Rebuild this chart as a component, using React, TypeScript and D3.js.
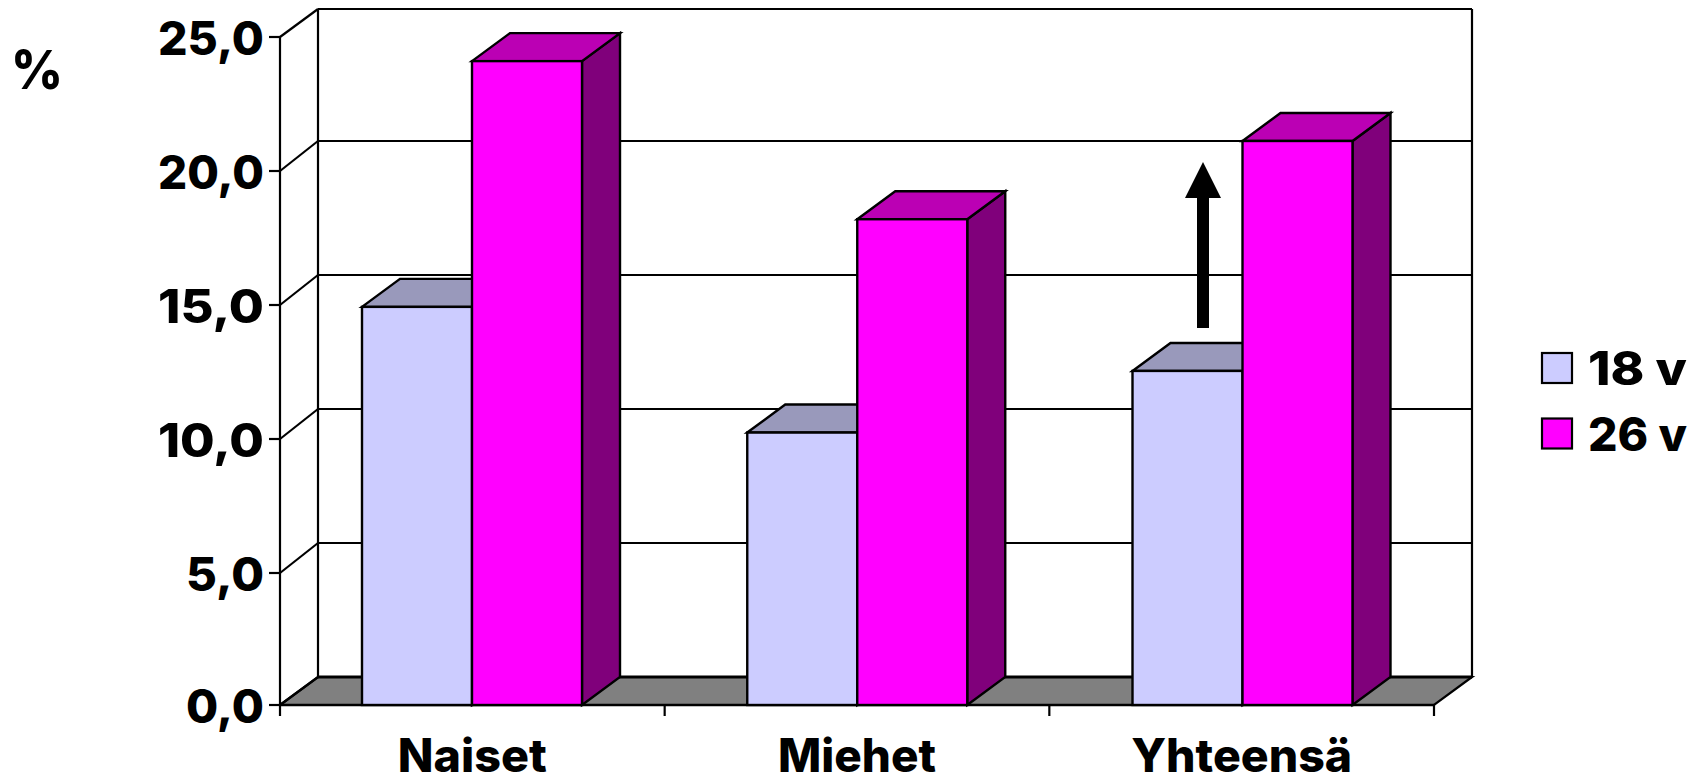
import React from "react";
import * as d3 from "d3";

const categories = ["Naiset", "Miehet", "Yhteensä"];
const seriesNames = ["18 v", "26 v"];
const values18 = [14.93, 10.24, 12.54];
const values26 = [24.1, 18.2, 21.12];
const yTicks = [0, 5, 10, 15, 20, 25];
const yTickLabels = ["0,0", "5,0", "10,0", "15,0", "20,0", "25,0"];
const categoryWidths = [149, 158, 221];
const colors18 = { front: "#ccccff", top: "#9999bb", side: "#666680" };
const colors26 = { front: "#ff00ff", top: "#bb00b4", side: "#80007b" };
const FONT = "Inter, 'Liberation Sans', Arial, sans-serif";

const x0 = 280, x1 = 1434, y0 = 705, dx = 38, dy = 28, barW = 110;
const sw = 2.4;

export default function App() {
  const y = d3.scaleLinear().domain([0, 5, 25]).range([705, 573, 37]);
  const yBack = d3.scaleLinear().domain([0, 20, 25]).range([677, 141, 9]);
  const x = d3.scaleBand<string>().domain(categories).range([x0, x1]);
  const barCenter = d3.scalePoint<string>().domain(categories).range([472, 1242.5]);
  const poly = (pts: number[][]) => d3.line()(pts as [number, number][]) + "Z";
  const drawBar = (cx: number, val: number, c: typeof colors18, key: string) => {
    const t = y(val);
    return (
      <g key={key} stroke="#000" strokeWidth={sw} strokeLinejoin="miter">
        <path d={poly([[cx + barW, y0], [cx + barW + dx, y0 - dy], [cx + barW + dx, t - dy], [cx + barW, t]])} fill={c.side} />
        <path d={poly([[cx, t], [cx + dx, t - dy], [cx + barW + dx, t - dy], [cx + barW, t]])} fill={c.top} />
        <rect x={cx} y={t} width={barW} height={y0 - t} fill={c.front} />
      </g>
    );
  };
  const ax = { stroke: "#000", strokeWidth: 2.2 };
  const xEdges = [0, 1, 2, 3].map((i) => x0 + i * x.step());
  const arrowX = 1203;
  return (
    <svg width={1708} height={777} style={{ position: "absolute", left: 0, top: 0, background: "#fff" }} fontFamily={FONT} fontWeight={800} fill="#000">
      <path d={poly([[x0, y0], [x0 + dx, yBack(0)], [x1 + dx, yBack(0)], [x1, y0]])} fill="#808080" stroke="#000" strokeWidth={2.2} />
      <line x1={x0 + dx} x2={x1 + dx} y1={yBack(0)} y2={yBack(0)} stroke="#000" strokeWidth={3} />
      <line x1={x0 + dx} x2={x0 + dx} y1={yBack(25)} y2={yBack(0)} {...ax} />
      <line x1={x1 + dx} x2={x1 + dx} y1={yBack(25)} y2={yBack(0)} {...ax} />
      {yTicks.map((t) => (
        <g key={t}>
          {t > 0 && <line x1={x0 + dx} x2={x1 + dx} y1={yBack(t)} y2={yBack(t)} {...ax} />}
          <line x1={x0} x2={x0 + dx} y1={y(t)} y2={yBack(t)} {...ax} />
          <line x1={x0 - 11} x2={x0} y1={y(t)} y2={y(t)} {...ax} />
        </g>
      ))}
      <line x1={x0} x2={x0} y1={y(25)} y2={y0 + 11} {...ax} />
      <line x1={x0} x2={x1} y1={y0} y2={y0} stroke="#000" strokeWidth={2.6} />
      {xEdges.slice(1).map((e) => <line key={e} x1={e} x2={e} y1={y0} y2={y0 + 11} {...ax} />)}
      {categories.map((c, i) => {
        const cx = barCenter(c)!;
        return (
          <g key={c}>
            {drawBar(cx - barW, values18[i], colors18, c + "a")}
            {drawBar(cx, values26[i], colors26, c + "b")}
          </g>
        );
      })}
      <rect x={arrowX - 6} y={197} width={12} height={131} fill="#000" />
      <path d={poly([[arrowX, 162], [arrowX + 18, 198], [arrowX - 18, 198]])} fill="#000" />
      {yTicks.map((t, i) => (
        <text key={t} x={264} y={y(t) + 17.5} textAnchor="end" fontSize={46} textLength={yTickLabels[i].length === 4 ? 106 : 78} lengthAdjust="spacingAndGlyphs">{yTickLabels[i]}</text>
      ))}
      <text x={11} y={89} fontSize={54} textLength={52} lengthAdjust="spacingAndGlyphs">%</text>
      {categories.map((c, i) => {
        const cx = x(c)! + x.bandwidth() / 2;
        return <text key={c} x={cx} y={772} textAnchor="middle" fontSize={46} textLength={categoryWidths[i]} lengthAdjust="spacingAndGlyphs">{c}</text>;
      })}
      {seriesNames.map((s, i) => (
        <g key={s}>
          <rect x={1542} y={353 + i * 65.5} width={30} height={30} fill={i === 0 ? colors18.front : colors26.front} stroke="#000" strokeWidth={2.2} />
          <text x={1588} y={385 + i * 65.5} fontSize={46} textLength={99} lengthAdjust="spacingAndGlyphs">{s}</text>
        </g>
      ))}
    </svg>
  );
}
